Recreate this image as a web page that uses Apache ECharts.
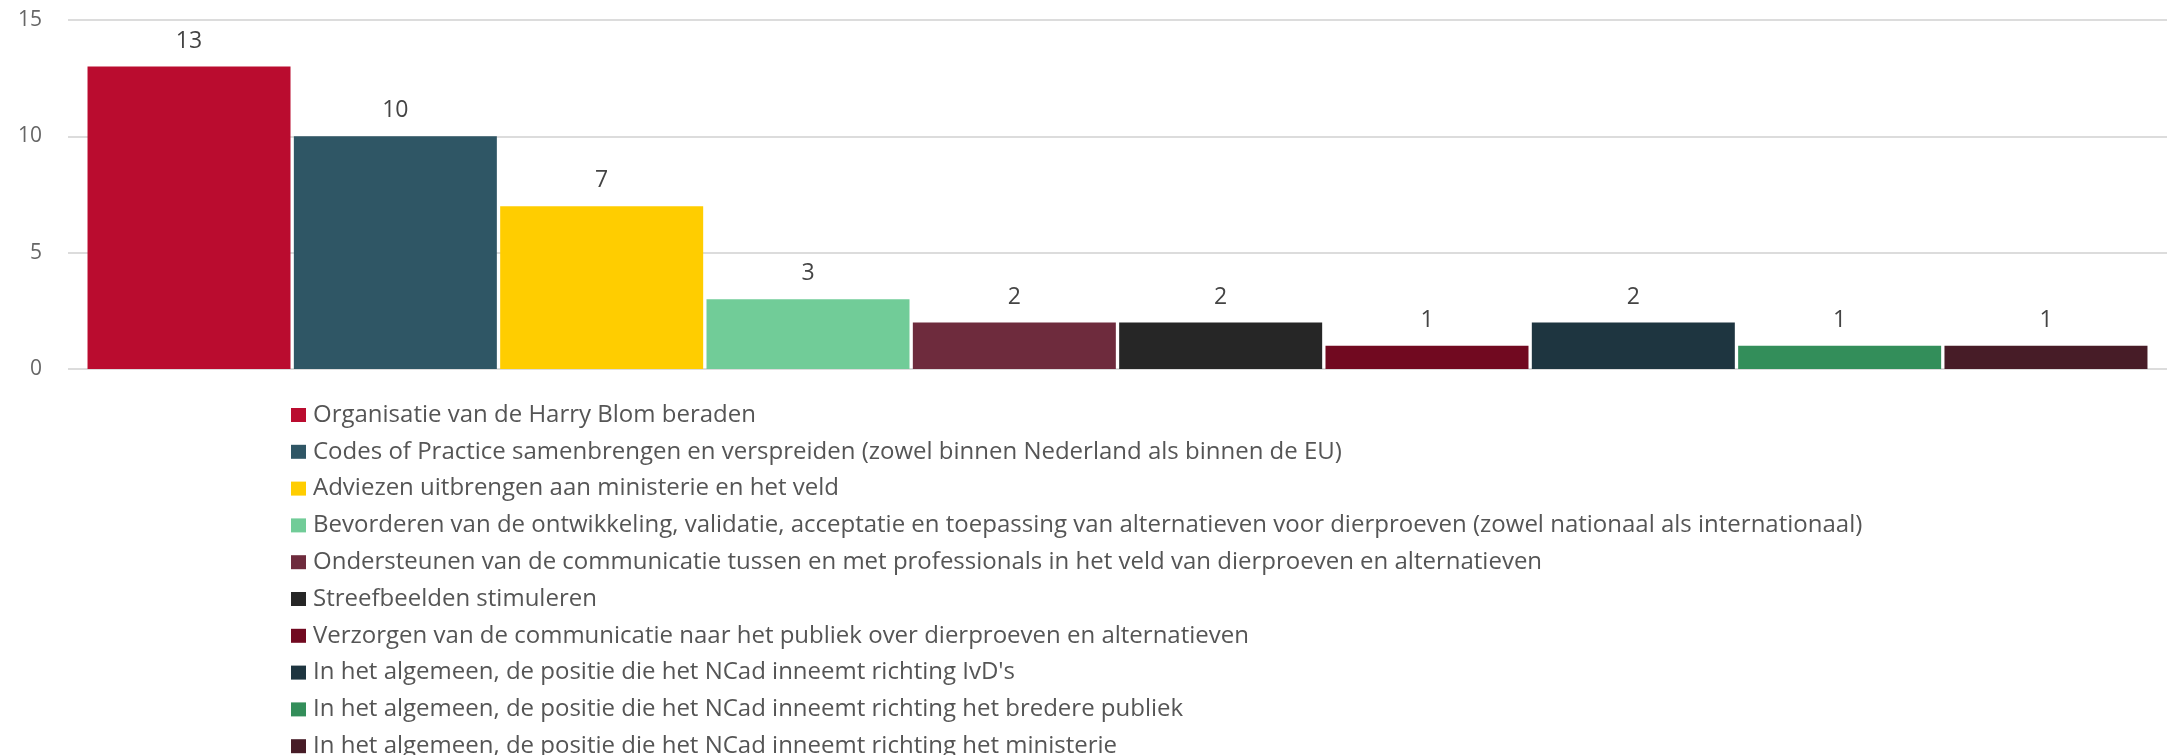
<!DOCTYPE html>
<html>
<head>
<meta charset="utf-8">
<script src="https://cdn.jsdelivr.net/npm/echarts@6/dist/echarts.min.js"></script>
<style>
html,body{margin:0;padding:0;background:#fff;}
#chart{width:2170px;height:755px;}
</style>
</head>
<body>
<div id="chart"></div>
<script>
const seriesNames = [
  "Organisatie van de Harry Blom beraden",
  "Codes of Practice samenbrengen en verspreiden (zowel binnen Nederland als binnen de EU)",
  "Adviezen uitbrengen aan ministerie en het veld",
  "Bevorderen van de ontwikkeling, validatie, acceptatie en toepassing van alternatieven voor dierproeven (zowel nationaal als internationaal)",
  "Ondersteunen van de communicatie tussen en met professionals in het veld van dierproeven en alternatieven",
  "Streefbeelden stimuleren",
  "Verzorgen van de communicatie naar het publiek over dierproeven en alternatieven",
  "In het algemeen, de positie die het NCad inneemt richting IvD's",
  "In het algemeen, de positie die het NCad inneemt richting het bredere publiek",
  "In het algemeen, de positie die het NCad inneemt richting het ministerie"
];
const seriesValues = [13, 10, 7, 3, 2, 2, 1, 2, 1, 1];
const seriesColors = ["#ba0c2f","#2f5665","#ffcd00","#71cc98","#6e2b3d","#262626","#710920","#1e3540","#338e5a","#471c27"];
const yTicks = {min: 0, max: 15, interval: 5};

const chart = echarts.init(document.getElementById('chart'), null, {renderer: 'canvas'});
const FONT = '"Open Sans", sans-serif';

const series = seriesNames.map((name, i) => ({
  name: name,
  type: 'bar',
  data: [seriesValues[i]],
  itemStyle: {color: seriesColors[i]},
  barGap: '1.64%',
  barCategoryGap: '1.86%',
  label: {
    show: true,
    position: 'top',
    distance: 14,
    color: '#444',
    fontFamily: FONT,
    fontSize: 23
  }
}));

chart.setOption({
  animation: false,
  textStyle: {fontFamily: FONT},
  grid: {left: 68, right: 3, top: 20, height: 349, containLabel: false},
  xAxis: {
    type: 'category',
    data: [''],
    axisLine: {show: false},
    axisTick: {show: false},
    axisLabel: {show: false}
  },
  yAxis: {
    type: 'value',
    min: yTicks.min,
    max: yTicks.max,
    interval: yTicks.interval,
    axisLine: {show: false},
    axisTick: {show: false},
    axisLabel: {color: '#666', fontFamily: FONT, fontSize: 21, margin: 26},
    splitLine: {lineStyle: {color: '#dcdcdc', width: 2}}
  },
  legend: {
    orient: 'vertical',
    left: 291,
    top: 403,
    height: 430,
    padding: 0,
    itemWidth: 15,
    itemHeight: 14,
    itemGap: 12.8,
    icon: 'rect',
    selectedMode: false,
    textStyle: {color: '#555', fontFamily: FONT, fontSize: 24, lineHeight: 24, padding: [0, 0, 0, 2]},
    data: seriesNames
  },
  series: series
});
</script>
</body>
</html>
